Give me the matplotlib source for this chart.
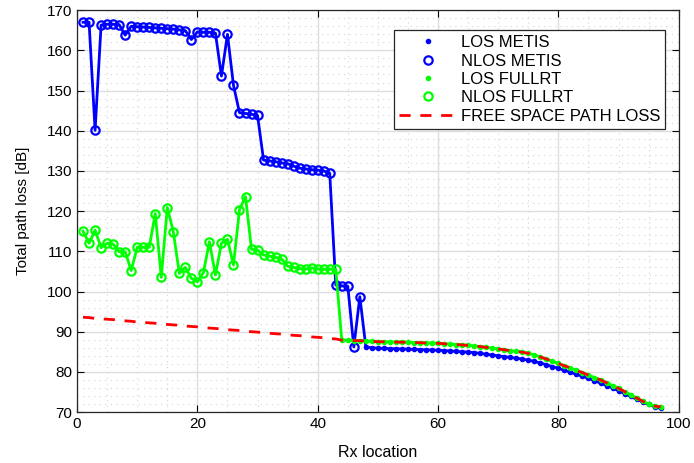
import numpy as np
import matplotlib.pyplot as plt
from matplotlib.ticker import MultipleLocator

plt.rcParams['font.family'] = ['Liberation Sans', 'DejaVu Sans']

# Rx locations
rx = list(range(1, 98))

# METIS: NLOS for locations 1..47, LOS for 48..97
metis_nlos = [167.0, 167.0, 140.1, 166.3, 166.5, 166.5, 166.4, 163.8, 166.0, 165.9,
              165.8, 165.7, 165.6, 165.5, 165.4, 165.3, 165.1, 164.9, 162.7, 164.6,
              164.5, 164.5, 164.3, 153.6, 164.0, 151.3, 144.5, 144.3, 144.1, 143.8,
              132.7, 132.5, 132.3, 132.0, 131.8, 131.2, 130.7, 130.5, 130.3, 130.2,
              130.0, 129.4, 101.6, 101.4, 101.3, 86.2, 98.7]
metis_los = [86.2, 86.0, 85.9, 85.85, 85.8, 85.75, 85.7, 85.65, 85.6, 85.55,
             85.5, 85.45, 85.4, 85.3, 85.2, 85.1, 85.0, 84.9, 84.8, 84.6,
             84.4, 84.2, 84.0, 83.8, 83.6, 83.4, 83.2, 82.9, 82.6, 82.2,
             81.8, 81.3, 80.9, 80.4, 79.9, 79.4, 78.9, 78.4, 77.8, 77.2,
             76.6, 76.0, 75.3, 74.6, 73.9, 73.2, 72.5, 71.9, 71.3, 70.9]

# FULLRT: NLOS for locations 1..43, LOS for 44..97
fullrt_nlos = [115.0, 112.0, 115.3, 110.9, 112.0, 111.8, 109.9, 109.9, 105.2, 111.0,
               111.0, 111.0, 119.4, 103.5, 120.9, 114.9, 104.5, 106.0, 103.3, 102.4,
               104.7, 112.4, 104.1, 112.0, 113.0, 106.6, 120.4, 123.6, 110.5, 110.3,
               109.1, 108.8, 108.5, 108.1, 106.3, 106.0, 105.7, 105.6, 105.9, 105.6,
               105.5, 105.6, 105.5]
fullrt_los = [87.9, 87.85, 87.8, 87.75, 87.7, 87.6, 87.5, 87.5, 87.45, 87.4,
              87.4, 87.35, 87.3, 87.25, 87.2, 87.15, 87.1, 87.0, 86.9, 86.8,
              86.7, 86.6, 86.45, 86.3, 86.1, 85.9, 85.7, 85.5, 85.3, 85.1,
              84.9, 84.6, 84.2, 83.7, 83.2, 82.6, 82.1, 81.5, 81.0, 80.4,
              79.8, 79.2, 78.6, 78.0, 77.3, 76.6, 75.9, 75.1, 74.3, 73.5,
              72.7, 72.0, 71.5, 71.3]

# free space path loss
fspl = [93.6, 93.5, 93.3, 93.2, 93.1, 93.0, 92.8, 92.7, 92.6, 92.4,
        92.3, 92.2, 92.1, 91.9, 91.8, 91.7, 91.6, 91.4, 91.3, 91.2,
        91.0, 90.9, 90.8, 90.7, 90.5, 90.4, 90.3, 90.1, 90.0, 89.9,
        89.8, 89.6, 89.5, 89.4, 89.2, 89.1, 89.0, 88.9, 88.7, 88.6,
        88.5, 88.3, 88.2] + fullrt_los

metis = metis_nlos + metis_los
fullrt = fullrt_nlos + fullrt_los
n_m = len(metis_nlos)
n_f = len(fullrt_nlos)

fig = plt.figure(figsize=(6.94, 4.63), dpi=100)
ax = fig.add_axes([0.111, 0.110, 0.867, 0.868])

# connecting lines
ax.plot(rx, metis, color='b', lw=2, zorder=3)
ax.plot(rx, fullrt, color='#00ff00', lw=2, zorder=4)

h1, = ax.plot(rx[n_m:], metis_los, '.', color='b', ms=6, zorder=3, label='LOS METIS')
h2, = ax.plot(rx[:n_m], metis_nlos, 'o', mfc='none', mec='b', ms=6, mew=1.6,
              zorder=3, label='NLOS METIS')
h3, = ax.plot(rx[n_f:], fullrt_los, '.', color='#00ff00', ms=6, zorder=4, label='LOS FULLRT')
h4, = ax.plot(rx[:n_f], fullrt_nlos, 'o', mfc='none', mec='#00ff00', ms=6, mew=1.6,
              zorder=4, label='NLOS FULLRT')
h5, = ax.plot(rx, fspl, '--', color='r', lw=2, dashes=(4, 3.5), zorder=5,
              label='FREE SPACE PATH LOSS')

ax.set_xlim(0, 100)
ax.set_ylim(70, 170)
ax.xaxis.set_major_locator(MultipleLocator(20))
ax.yaxis.set_major_locator(MultipleLocator(10))
ax.xaxis.set_minor_locator(MultipleLocator(5))
ax.yaxis.set_minor_locator(MultipleLocator(2))
ax.grid(True, which='major', color='#dedede', lw=1)
ax.grid(True, which='minor', color='#d4d4d4', lw=0.8, ls=(0, (1, 4)))
ax.set_axisbelow(True)
ax.tick_params(which='major', direction='in', top=True, right=True, length=5,
               labelsize=11, width=0.8)
ax.tick_params(which='minor', length=0)
for s in ax.spines.values():
    s.set_color('#262626')
    s.set_linewidth(0.9)

ax.set_xlabel('Rx location', fontsize=11.5, labelpad=10)
ax.set_ylabel('Total path loss [dB]', fontsize=11, labelpad=12)

leg = ax.legend(handles=[h1, h2, h3, h4, h5], loc='upper right', fontsize=12,
                fancybox=False, framealpha=1, edgecolor='#262626',
                bbox_to_anchor=(0.978, 0.950), borderaxespad=0, borderpad=0.3,
                labelspacing=0.2, handlelength=3.4, handletextpad=0.3)
leg.get_frame().set_linewidth(0.9)

fig.savefig('out.png', dpi=100)
